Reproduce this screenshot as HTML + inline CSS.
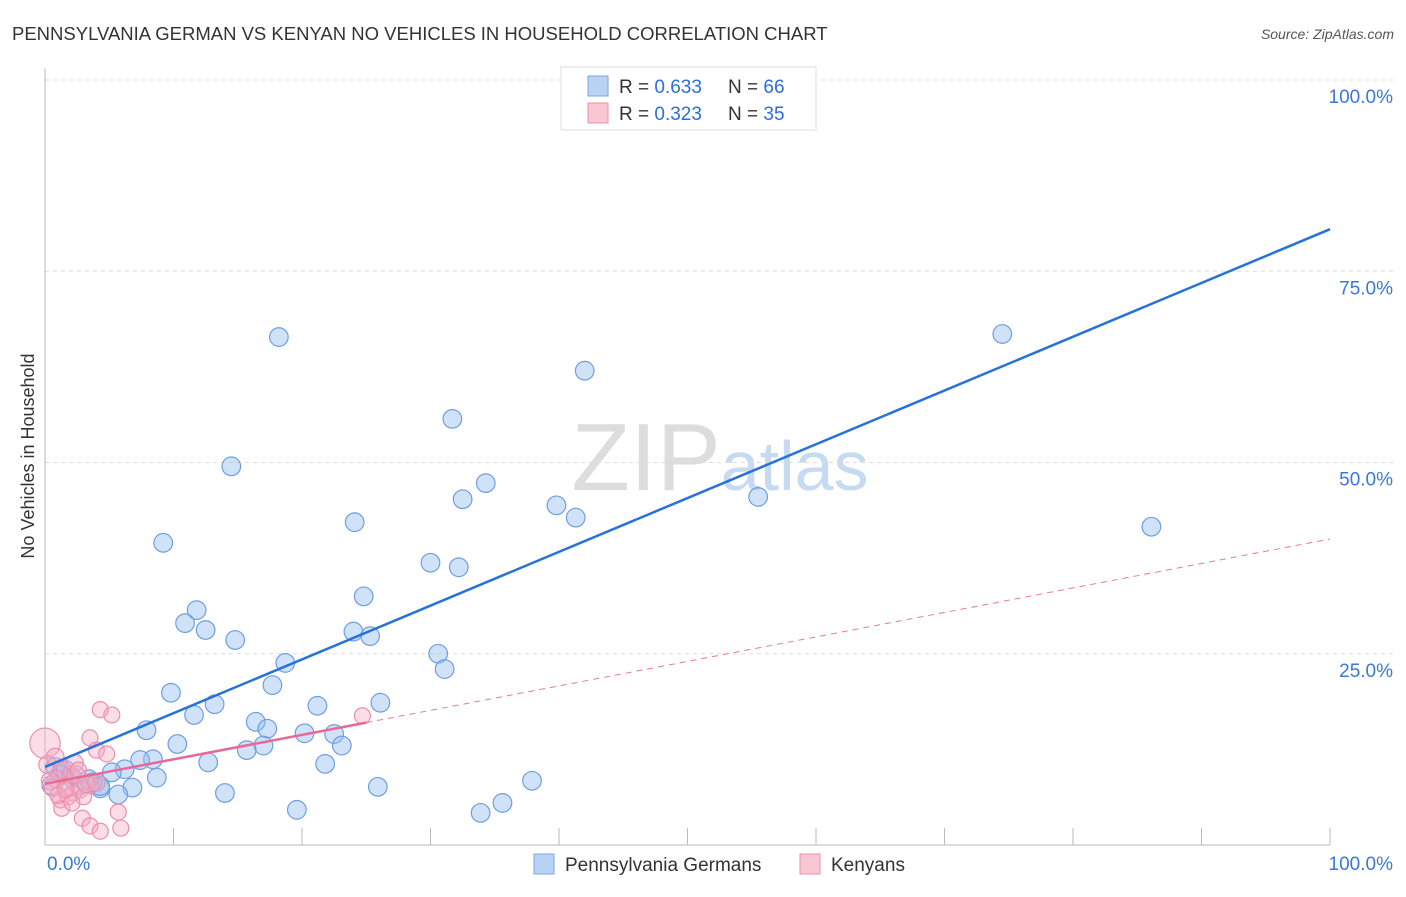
<!DOCTYPE html>
<html><head><meta charset="utf-8"><style>
body{margin:0;background:#fff;font-family:"Liberation Sans",sans-serif;}
svg text{font-family:"Liberation Sans",sans-serif;}
</style></head><body>
<svg id="chart" width="1406" height="892">
<text x="12" y="40" font-size="18.5" fill="#333">PENNSYLVANIA GERMAN VS KENYAN NO VEHICLES IN HOUSEHOLD CORRELATION CHART</text>
<text x="1394" y="39" font-size="14" fill="#555" font-style="italic" text-anchor="end">Source: ZipAtlas.com</text>
<text x="0" y="0" transform="translate(34,456) rotate(-90)" font-size="18" fill="#333" text-anchor="middle">No Vehicles in Household</text>
<text x="720" y="490" font-size="96" fill="#ddd" text-anchor="middle" font-family="Liberation Serif">ZIP<tspan fill="#c6dbf2" font-family="Liberation Sans" font-size="70">atlas</tspan></text>
<g id="grid"></g><g id="axes"></g><g id="pts"></g><g id="lines"></g>
<g>
<rect x="561" y="67" width="255" height="63" fill="#fff" stroke="#ddd"/>
<rect x="588" y="76" width="20" height="20" fill="#b9d3f5" stroke="#7aa6e0"/>
<text x="619" y="93" font-size="19" fill="#333">R = <tspan fill="#2a6fdb">0.633</tspan></text>
<text x="728" y="93" font-size="19" fill="#333">N = <tspan fill="#2a6fdb">66</tspan></text>
<rect x="588" y="103" width="20" height="20" fill="#f9c6d4" stroke="#ec90ab"/>
<text x="619" y="120" font-size="19" fill="#333">R = <tspan fill="#2a6fdb">0.323</tspan></text>
<text x="728" y="120" font-size="19" fill="#333">N = <tspan fill="#2a6fdb">35</tspan></text>
</g>
<g>
<rect x="534" y="854" width="20" height="20" fill="#b9d3f5" stroke="#7aa6e0"/>
<text x="565" y="871" font-size="19" fill="#333">Pennsylvania Germans</text>
<rect x="800" y="854" width="20" height="20" fill="#f9c6d4" stroke="#ec90ab"/>
<text x="831" y="871" font-size="19" fill="#333">Kenyans</text>
</g>
</svg>
<script>
const yTicks=[25,50,75,100];
const yTickLabels=["25.0%","50.0%","75.0%","100.0%"];
const xTickLabels=["0.0%","100.0%"];
const blueX=[18.2,14.5,9.2,11.8,10.9,12.5,14.8,9.8,11.6,13.2,7.9,10.3,8.4,7.4,6.2,5.2,8.7,6.8,5.7,4.3,3.7,3.4,0.8,0.5,1.2,2.1,12.7,14.0,16.4,17.3,17.0,15.7,17.7,18.7,20.2,21.2,21.8,19.6,22.5,23.1,24.1,24.8,24.0,25.3,26.1,25.9,31.7,32.5,34.3,30.0,32.2,30.6,31.1,33.9,35.6,37.9,39.8,41.3,42.0,53.9,55.5,74.5,86.1,4.3,2.7,1.6];
const blueY=[66.4,49.5,39.5,30.7,29.0,28.1,26.8,19.9,17.0,18.4,15.0,13.2,11.2,11.1,9.9,9.5,8.8,7.5,6.6,7.4,8.2,8.6,10.2,7.8,9.2,8.8,10.8,6.8,16.1,15.2,13.0,12.4,20.9,23.8,14.6,18.2,10.6,4.6,14.5,13.0,42.2,32.5,27.9,27.3,18.6,7.6,55.7,45.2,47.3,36.9,36.3,25.0,23.0,4.2,5.5,8.4,44.4,42.8,62.0,100,45.5,66.8,41.6,7.7,7.8,9.8];
const pinkX=[0,0.2,0.8,1.3,2.0,2.3,0.9,1.6,2.7,3.5,4.3,5.2,3.5,4.0,4.8,2.2,1.2,1.8,3.0,1.3,2.9,3.5,4.3,5.7,5.9,24.7,0.4,0.6,2.4,3.2,4.0,2.1,1.0,1.6,2.6];
const pinkY=[13.3,10.5,11.5,9.9,9.2,10.7,8.6,7.6,7.3,7.9,17.7,17.0,14.0,12.4,11.9,6.8,5.9,6.3,6.3,4.8,3.5,2.5,1.8,4.3,2.2,16.9,8.4,7.5,9.2,8.0,8.2,5.5,6.5,7.2,9.8];
const pinkR=[19,11,11,11,11,11,11,11,11,11,10,10,10,10,10,10,10,10,10,10,10,10,10,10,10,10,11,11,11,11,11,10,10,10,10];
const blueFit=[10.2,80.5];
const pinkFit=[8.0,40.0];
const pinkSolidEnd=25;
const X0=45,X1=1330,Y0=845,Y1=80;
const sx=v=>X0+(X1-X0)*v/100, sy=v=>Y0-(Y0-Y1)*v/100;
const NS="http://www.w3.org/2000/svg";
function mk(tag,attrs,parent){const e=document.createElementNS(NS,tag);for(const k in attrs)e.setAttribute(k,attrs[k]);document.getElementById(parent).appendChild(e);return e;}
yTicks.forEach((t,i)=>{
 const l=mk('line',{x1:X0,x2:1394,y1:sy(t),y2:sy(t),stroke:'#ddd','stroke-dasharray':'4,4'},'grid');
 
 
 const tx=mk('text',{x:1393,y:sy(t)+23,'font-size':19,fill:'#3a78d8','text-anchor':'end'},'axes');
 tx.textContent=yTickLabels[i];
 
 
});
const ax=mk('line',{x1:X0,x2:X0,y1:68,y2:Y0,stroke:'#bbb'},'axes');


const bx=mk('line',{x1:X0,x2:X1,y1:Y0,y2:Y0,stroke:'#bbb'},'axes');


for(let i=1;i<=10;i++){const t=mk('line',{x1:sx(i*10),x2:sx(i*10),y1:828,y2:Y0,stroke:'#bbb'},'axes');
 
 }
[[X0+2,'start'],[1393,'end']].forEach((p,i)=>{const t=mk('text',{x:p[0],y:870,'font-size':19,fill:'#3a78d8','text-anchor':p[1]},'axes');t.textContent=xTickLabels[i];
 
 });
blueX.forEach((x,i)=>{const c=mk('circle',{cx:sx(x),cy:sy(blueY[i]),r:9.3,fill:'rgba(150,190,240,0.45)',stroke:'#6e9fe0','stroke-width':1.2},'pts');
 
 });
pinkX.forEach((x,i)=>{const c=mk('circle',{cx:sx(x),cy:sy(pinkY[i]),r:pinkR[i]*0.8,fill:'rgba(245,170,195,0.4)',stroke:'#ec8fac','stroke-width':1.2},'pts');
 
 });
const pAt=x=>pinkFit[0]+(pinkFit[1]-pinkFit[0])*x/100;
const pd=mk('line',{x1:sx(pinkSolidEnd),y1:sy(pAt(pinkSolidEnd)),x2:sx(100),y2:sy(pinkFit[1]),stroke:'#e8789c','stroke-dasharray':'6,5','stroke-width':1},'lines');


const ps=mk('line',{x1:sx(0),y1:sy(pinkFit[0]),x2:sx(pinkSolidEnd),y2:sy(pAt(pinkSolidEnd)),stroke:'#e8689a','stroke-width':2.5},'lines');


const bl=mk('line',{x1:sx(0),y1:sy(blueFit[0]),x2:sx(100),y2:sy(blueFit[1]),stroke:'#2672d8','stroke-width':2.5},'lines');


</script>
</body></html>
